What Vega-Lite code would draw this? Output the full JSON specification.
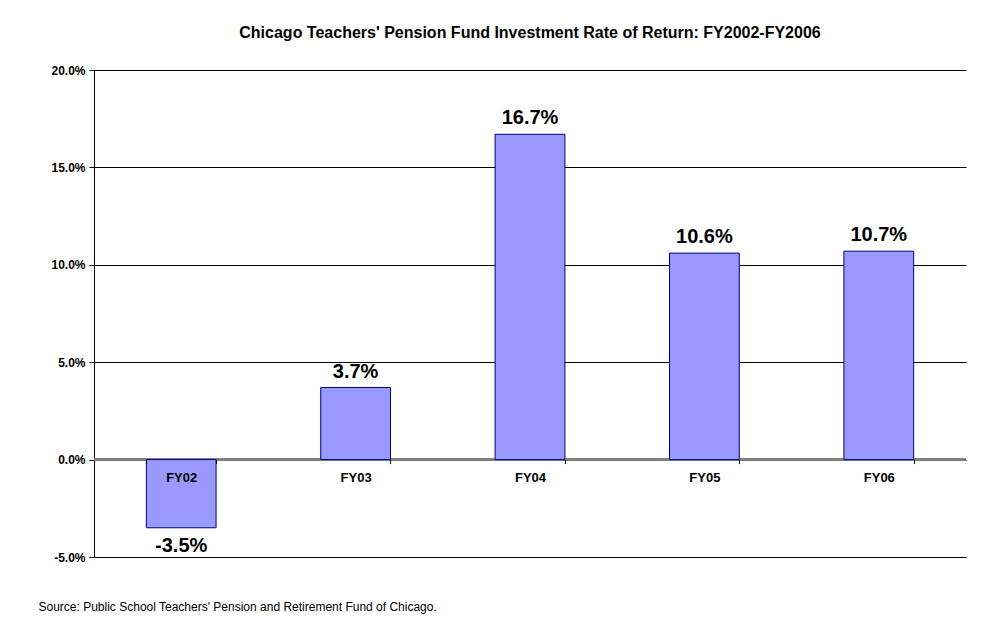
{
  "$schema": "https://vega.github.io/schema/vega-lite/v6.json",
  "width": 872,
  "height": 487,
  "autosize": {"type": "none"},
  "padding": {"left": 94, "top": 70, "right": 30, "bottom": 71},
  "background": "white",
  "config": {
    "view": {"stroke": null},
    "font": "Liberation Sans"
  },
  "title": {
    "text": "Chicago Teachers' Pension Fund Investment Rate of Return: FY2002-FY2006",
    "font": "Liberation Sans",
    "fontSize": 16,
    "fontWeight": "bold",
    "color": "black",
    "anchor": "middle",
    "offset": 23
  },
  "data": {
    "values": [
      {"year": "FY02", "ret": -0.035},
      {"year": "FY03", "ret": 0.037},
      {"year": "FY04", "ret": 0.167},
      {"year": "FY05", "ret": 0.106},
      {"year": "FY06", "ret": 0.107}
    ]
  },
  "transform": [
    {"calculate": "replace(format(datum.ret, '.1%'), '\u2212', '-')", "as": "lbl"}
  ],
  "layer": [
    {
      "mark": {"type": "rule", "color": "#808080", "strokeWidth": 2},
      "encoding": {"y": {"datum": 0, "type": "quantitative", "scale": {"domain": [-0.05, 0.2], "nice": false}}}
    },
    {
      "mark": {"type": "bar", "fill": "#9999FF", "stroke": "#000080", "strokeWidth": 1},
      "encoding": {
        "x": {
          "field": "year",
          "type": "nominal",
          "sort": null,
          "scale": {"paddingInner": 0.6, "paddingOuter": 0.3},
          "axis": {
            "orient": "bottom",
            "offset": -97.4,
            "zindex": 1,
            "domain": false,
            "ticks": true,
            "tickColor": "black",
            "tickSize": 4,
            "tickBand": "extent",
            "labelAngle": 0,
            "labelFont": "Liberation Sans",
            "labelFontSize": 13,
            "labelFontWeight": "bold",
            "labelColor": "black",
            "labelPadding": 8,
            "grid": false,
            "title": "Source:  Public School Teachers' Pension and Retirement Fund of Chicago.",
            "titleFont": "Liberation Sans",
            "titleFontSize": 12,
            "titleFontWeight": "normal",
            "titleColor": "black",
            "titleX": -56,
            "titleY": 147,
            "titleAlign": "left",
            "titleBaseline": "middle"
          }
        },
        "y": {
          "field": "ret",
          "type": "quantitative",
          "scale": {"domain": [-0.05, 0.2], "nice": false, "zero": true},
          "axis": {
            "values": [-0.05, 0, 0.05, 0.1, 0.15, 0.2],
            "format": ".1%",
            "labelExpr": "replace(datum.label, '\u2212', '-')",
            "domainColor": "black",
            "tickColor": "black",
            "tickSize": 5,
            "labelFont": "Liberation Sans",
            "labelFontSize": 12,
            "labelFontWeight": "bold",
            "labelColor": "black",
            "labelPadding": 4,
            "grid": true,
            "gridColor": "black",
            "gridOpacity": 1,
            "gridWidth": 1,
            "title": null
          }
        }
      }
    },
    {
      "transform": [{"filter": "datum.ret >= 0"}],
      "mark": {"type": "text", "baseline": "alphabetic", "dy": -10, "fontSize": 20, "fontWeight": "bold", "font": "Liberation Sans", "color": "black"},
      "encoding": {
        "x": {"field": "year", "type": "nominal", "sort": null},
        "y": {"field": "ret", "type": "quantitative"},
        "text": {"field": "lbl", "type": "nominal"}
      }
    },
    {
      "transform": [{"filter": "datum.ret < 0"}],
      "mark": {"type": "text", "baseline": "top", "dy": 8, "fontSize": 20, "fontWeight": "bold", "font": "Liberation Sans", "color": "black"},
      "encoding": {
        "x": {"field": "year", "type": "nominal", "sort": null},
        "y": {"field": "ret", "type": "quantitative"},
        "text": {"field": "lbl", "type": "nominal"}
      }
    }
  ]
}
